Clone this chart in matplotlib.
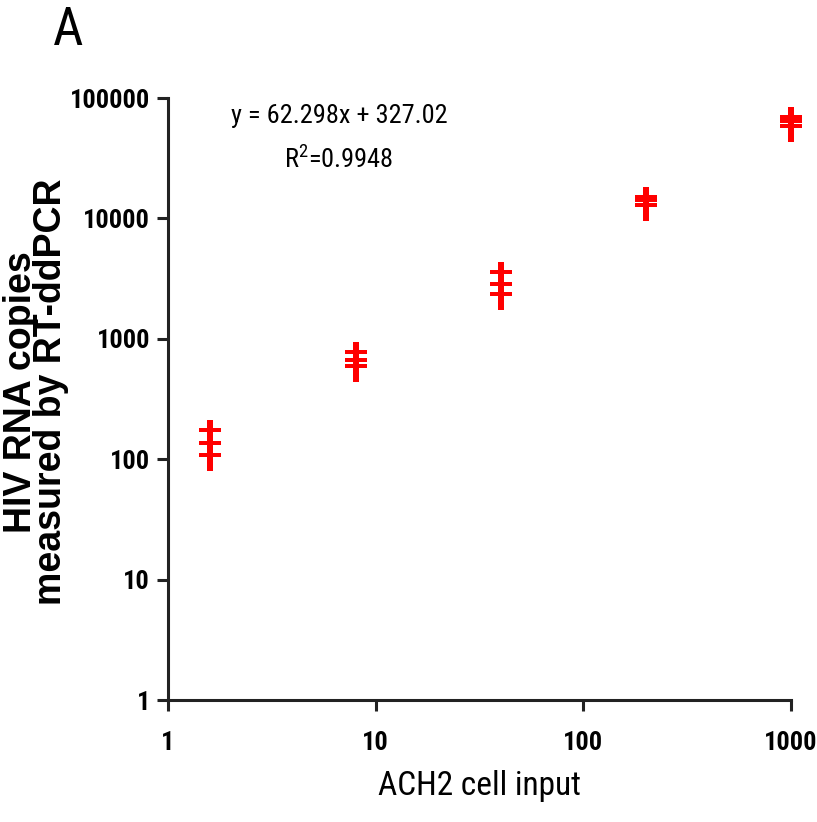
import matplotlib.pyplot as plt
from matplotlib import font_manager
from matplotlib.path import Path
from matplotlib.ticker import NullLocator

# ACH2 cell dilution series, three RT-ddPCR replicates per input
cell_input = [1.6, 8, 40, 200, 1000]
rep1 = [175, 771, 3600, 15200, 70000]
rep2 = [137, 661, 2840, 14100, 64000]
rep3 = [108, 589, 2370, 13000, 59000]

x_ticks = [1, 10, 100, 1000]
y_ticks = [1, 10, 100, 1000, 10000, 100000]

fit_text = 'y = 62.298x + 327.02'
r2_text = r'R$^2$=0.9948'


def pick_narrow():
    # look for a condensed sans face; fall back to plain Liberation Sans
    names = {f.name for f in font_manager.fontManager.ttflist}
    for n in ['Liberation Sans Narrow', 'Arial Narrow', 'Roboto Condensed',
              'Open Sans Condensed', 'DejaVu Sans Condensed', 'Noto Sans Condensed']:
        if n in names:
            return n, 'normal'
    for n in sorted(names):
        if 'Narrow' in n or 'Condensed' in n:
            return n, 'normal'
    for f in font_manager.fontManager.ttflist:
        if f.stretch in ('condensed', 'semi-condensed', 'extra-condensed'):
            return f.name, 'condensed'
    return None, 'normal'


narrow_name, narrow_stretch = pick_narrow()
if narrow_name:
    narrow = [narrow_name, 'Liberation Sans', 'DejaVu Sans']
    scale = 1.0
else:
    narrow = ['Liberation Sans', 'DejaVu Sans']
    scale = 0.85

plt.rcParams['mathtext.fontset'] = 'custom'
plt.rcParams['mathtext.rm'] = narrow[0]

# plus-shaped marker, long thin stem and short thick bar
a, b, c = 3.0, 11.0, 2.5
verts = [(-a, -16), (a, -16), (a, -c), (b, -c), (b, c), (a, c),
         (a, 10.5), (-a, 10.5), (-a, c), (-b, c), (-b, -c), (-a, -c), (-a, -16)]
codes = [Path.MOVETO] + [Path.LINETO] * 11 + [Path.CLOSEPOLY]
plus = Path(verts, codes)

fig = plt.figure(figsize=(8.17, 8.22), dpi=100)
ax = fig.add_axes([168 / 817, 1 - 700 / 822, 623 / 817, 602 / 822])

for rep in (rep1, rep2, rep3):
    ax.plot(cell_input, rep, linestyle='none', marker=plus, markersize=23,
            color='#ff0000', markeredgewidth=0, clip_on=False)

ax.set_xscale('log')
ax.set_yscale('log')
ax.set_xlim(1, 1000)
ax.set_ylim(1, 100000)
ax.set_xticks(x_ticks)
ax.set_xticklabels([str(t) for t in x_ticks])
ax.set_yticks(y_ticks)
ax.set_yticklabels([str(t) for t in y_ticks])
ax.xaxis.set_minor_locator(NullLocator())
ax.yaxis.set_minor_locator(NullLocator())

for side in ('top', 'right'):
    ax.spines[side].set_visible(False)
for side in ('left', 'bottom'):
    ax.spines[side].set_linewidth(2.2)
    ax.spines[side].set_color('#222222')
ax.tick_params(axis='both', length=8, width=2.2, color='#222222')
ax.tick_params(axis='x', pad=14)
ax.tick_params(axis='y', pad=5)
for lab in ax.get_xticklabels() + ax.get_yticklabels():
    lab.set_family(narrow)
    lab.set_stretch(narrow_stretch)
    lab.set_fontsize(19 * scale)
    lab.set_fontweight('bold')

ax.set_xlabel('ACH2 cell input', family=narrow, stretch=narrow_stretch,
              fontsize=24 * scale, labelpad=11)

fig.text(36 / 817, 1 - 392 / 822, 'HIV RNA copies\nmeasured by RT-ddPCR',
         rotation=90, ha='center', va='center', multialignment='center',
         family=['Liberation Sans', 'DejaVu Sans'], fontsize=27,
         fontweight='bold', linespacing=0.8)

fig.text(339 / 817, 1 - 123 / 822, fit_text, ha='center', va='baseline',
         family=narrow, stretch=narrow_stretch, fontsize=19 * scale)
fig.text(339 / 817, 1 - 168 / 822, r2_text, ha='center', va='baseline',
         family=narrow, stretch=narrow_stretch, fontsize=19 * scale)

fig.text(53 / 817, 1 - 45 / 822, 'A', ha='left', va='baseline',
         family=narrow, stretch=narrow_stretch, fontsize=38 * scale)

fig.savefig('out.png', dpi=100)
